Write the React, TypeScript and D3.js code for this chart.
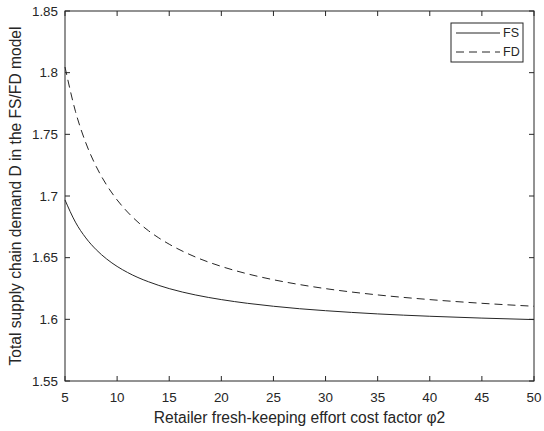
import React from "react";
import * as d3 from "d3";

// effort cost factor φ2 (sample points)
const phi2 = [5, 6, 7, 8, 9, 10, 11, 12, 13, 14, 15, 17.5, 20, 22.5, 25, 27.5, 30, 35, 40, 45, 50];
// demand D, FS model
const demandFS = [1.6968, 1.6788, 1.666, 1.6564, 1.6489, 1.6429, 1.638, 1.6339, 1.6305, 1.6275, 1.6249, 1.6198, 1.616, 1.613, 1.6106, 1.6086, 1.607, 1.6044, 1.6025, 1.601, 1.5998];
// demand D, FD model
const demandFD = [1.8046, 1.7687, 1.743, 1.7238, 1.7088, 1.6968, 1.687, 1.6788, 1.6719, 1.666, 1.6609, 1.6506, 1.6429, 1.6369, 1.6321, 1.6282, 1.6249, 1.6198, 1.616, 1.613, 1.6106];

const xTicks = [5, 10, 15, 20, 25, 30, 35, 40, 45, 50];
const yTicks = [1.55, 1.6, 1.65, 1.7, 1.75, 1.8, 1.85];

const W = 544;
const H = 431;
const margin = { top: 11, right: 10, bottom: 50, left: 65 };
const ink = "#262626";
const font = "'Liberation Sans', Arial, sans-serif";
const dash = "8,5";

export default function App() {
  const x = d3.scaleLinear().domain([5, 50]).range([margin.left, W - margin.right]);
  const y = d3.scaleLinear().domain([1.55, 1.85]).range([H - margin.bottom, margin.top]);

  const line = d3
    .line<number>()
    .x((_, i) => x(phi2[i]))
    .y((d) => y(d))
    .curve(d3.curveMonotoneX);

  const x0 = x.range()[0];
  const x1 = x.range()[1];
  const yb = y.range()[0];
  const yt = y.range()[1];
  const tk = 5;

  const lx = 451;
  const ly = 23;

  return (
    <svg
      width={W}
      height={H}
      style={{ position: "absolute", left: 0, top: 0, background: "#fff" }}
      fontFamily={font}
    >
      <rect width={W} height={H} fill="#fff" />

      <path d={line(demandFD) || ""} fill="none" stroke={ink} strokeWidth={1} strokeDasharray={dash} />
      <path d={line(demandFS) || ""} fill="none" stroke={ink} strokeWidth={1} />

      {/* box */}
      <rect x={x0} y={yt} width={x1 - x0} height={yb - yt} fill="none" stroke={ink} strokeWidth={1} />

      {xTicks.map((t) => (
        <g key={"x" + t}>
          <line x1={x(t)} x2={x(t)} y1={yb} y2={yb - tk} stroke={ink} />
          <line x1={x(t)} x2={x(t)} y1={yt} y2={yt + tk} stroke={ink} />
          <text x={x(t)} y={402} textAnchor="middle" fontSize={13.4} fill={ink}>
            {t}
          </text>
        </g>
      ))}

      {yTicks.map((t) => (
        <g key={"y" + t}>
          <line x1={x0} x2={x0 + tk} y1={y(t)} y2={y(t)} stroke={ink} />
          <line x1={x1} x2={x1 - tk} y1={y(t)} y2={y(t)} stroke={ink} />
          <text x={58} y={y(t)} dy="0.35em" textAnchor="end" fontSize={13.4} fill={ink}>
            {d3.format("")(t)}
          </text>
        </g>
      ))}

      <text x={(x0 + x1) / 2} y={423} textAnchor="middle" fontSize={15.6} fill={ink}>
        Retailer fresh-keeping effort cost factor φ2
      </text>
      <text
        transform={`translate(21,${(yt + yb) / 2}) rotate(-90)`}
        textAnchor="middle"
        fontSize={15.6}
        fill={ink}
      >
        Total supply chain demand D in the FS/FD model
      </text>

      {/* legend */}
      <rect x={lx} y={ly} width={72} height={39} fill="#fff" stroke={ink} strokeWidth={1} />
      <line x1={lx + 5} x2={lx + 49} y1={ly + 10} y2={ly + 10} stroke={ink} />
      <line x1={lx + 5} x2={lx + 49} y1={ly + 29} y2={ly + 29} stroke={ink} strokeDasharray={dash} />
      <text x={lx + 52} y={ly + 10} dy="0.35em" fontSize={12.5} fill={ink}>
        FS
      </text>
      <text x={lx + 52} y={ly + 29} dy="0.35em" fontSize={12.5} fill={ink}>
        FD
      </text>
    </svg>
  );
}
